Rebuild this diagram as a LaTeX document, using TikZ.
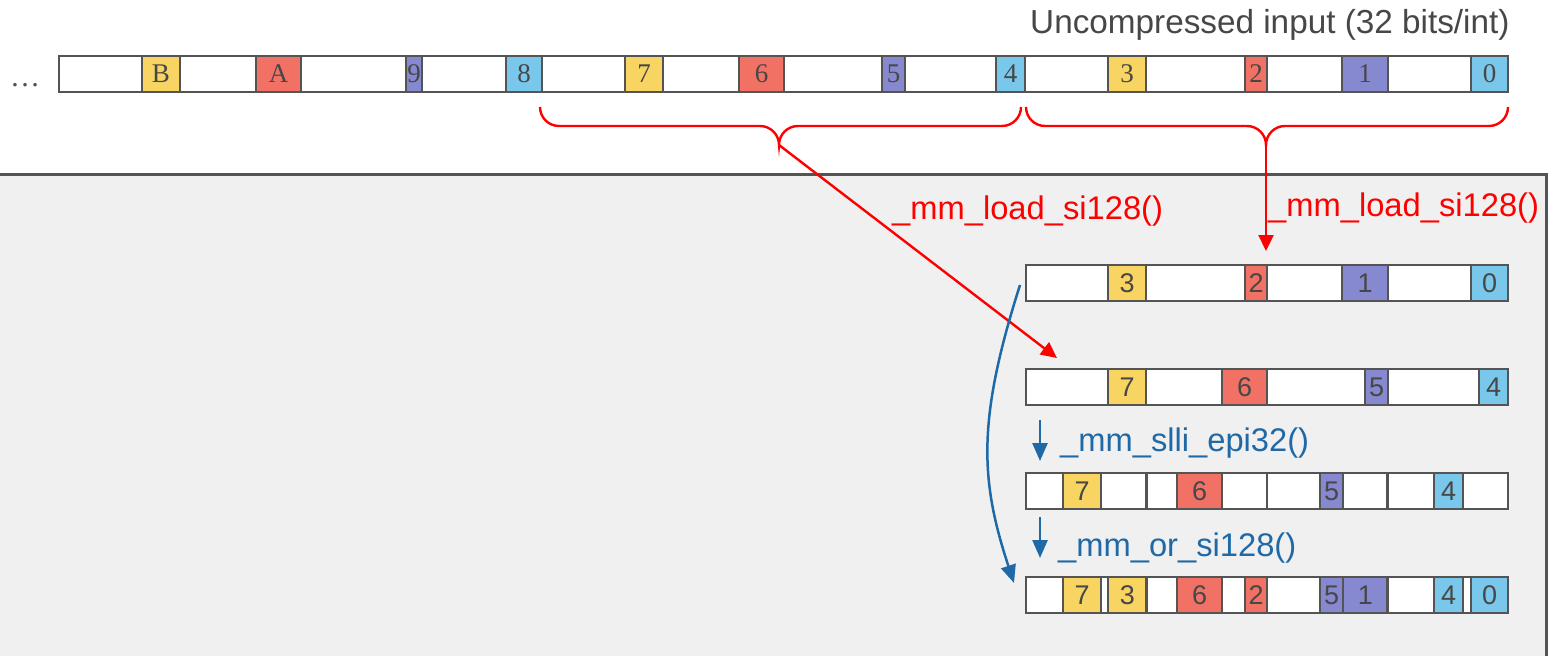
\documentclass[tikz,border=0pt]{standalone}
\usepackage{fontspec}
\setmainfont{Liberation Serif}
\setsansfont{Liberation Sans}
\usetikzlibrary{arrows.meta}

\definecolor{cyel}{HTML}{F8D462}
\definecolor{cred}{HTML}{F27165}
\definecolor{cpur}{HTML}{8689CF}
\definecolor{cblu}{HTML}{79C7EA}
\definecolor{edge}{HTML}{545454}
\definecolor{ink}{HTML}{474747}
\definecolor{panelgray}{HTML}{F0F0F0}
\definecolor{opblue}{HTML}{1F69A6}
\definecolor{loadred}{HTML}{FF0000}

% one coloured run of bits inside a register row
% #1 name, #2 left x, #3 right x, #4 top y, #5 bottom y, #6 fill, #7 text
\newcommand\bitcell[7]{%
  \node[box, cellfont, fill=#6, minimum width={#3-#2}, minimum height={#5-#4}]
    (#1) at ({(#2+#3)/2},{(#4+#5)/2}) {#7};}

% curly brace under a 128-bit group, tip pointing down
% #1 left x, #2 right x, #3 tip x, #4 tip name
\newcommand\groupbrace[4]{%
  \coordinate (#4) at (#3,145);
  \draw[loadline]
    (#1,107) .. controls (#1,117.5) and ({#1+8.5},126) .. ({#1+19},126)
    -- ({#3-19},126) .. controls ({#3-8.5},126) and (#3,134.5) .. (#4)
    .. controls (#3,134.5) and ({#3+8.5},126) .. ({#3+19},126)
    -- ({#2-19},126) .. controls ({#2-8.5},126) and (#2,117.5) .. (#2,107);}

\begin{document}
\begin{tikzpicture}[x=1pt,y=-1pt,
  box/.style={draw=edge, line width=2.8pt, fill=white, inner sep=0pt, outer sep=0pt},
  serifcell/.style={font=\fontsize{27}{27}\selectfont, text=ink},
  sanscell/.style={font=\sffamily\fontsize{27}{27}\selectfont, text=ink},
  cellfont/.style={sanscell},
  loadline/.style={draw=loadred, line width=2.4pt},
  loadarrow/.style={loadline, -{Triangle[length=16pt,width=15pt]}},
  oparrow/.style={draw=opblue, line width=2.5pt, -{Triangle[length=18pt,width=15pt]}},
  oplabel/.style={anchor=base west, font=\sffamily\fontsize{32.7}{33}\selectfont, text=opblue, inner sep=0pt},
  loadlabel/.style={anchor=base west, font=\sffamily\fontsize{32.7}{33}\selectfont, text=loadred, inner sep=0pt},
]
\useasboundingbox (0,0) rectangle (1553,656);
\clip (0,0) rectangle (1553,656);
\fill[white] (0,0) rectangle (1553,656);

% register panel
\draw[draw=edge, fill=panelgray, line width=3pt] (-20,174) rectangle (1546,700);

% title
\node[anchor=base west, font=\sffamily\fontsize{33.3}{33}\selectfont, text=ink, inner sep=0pt]
  (title) at (1030,33) {Uncompressed input (32 bits/int)};

% uncompressed input stream
\node[font=\fontsize{30}{30}\selectfont, text=edge, anchor=base, inner sep=0pt]
  (more) at (25,86) {…};
\node[box, minimum width=1449pt, minimum height=36pt] (input) at (783.5,74) {};
\begin{scope}[cellfont/.style={serifcell}]
  \bitcell{inB}{142}{180}{56}{92}{cyel}{B}
  \bitcell{inA}{256}{301}{56}{92}{cred}{A}
  \bitcell{in9}{406}{422}{56}{92}{cpur}{9}
  \bitcell{in8}{506}{542}{56}{92}{cblu}{8}
  \bitcell{in7}{625}{663}{56}{92}{cyel}{7}
  \bitcell{in6}{739}{784}{56}{92}{cred}{6}
  \bitcell{in5}{882}{905}{56}{92}{cpur}{5}
  \bitcell{in4}{996}{1025}{56}{92}{cblu}{4}
  \bitcell{in3}{1108}{1146}{56}{92}{cyel}{3}
  \bitcell{in2}{1245}{1267}{56}{92}{cred}{2}
  \bitcell{in1}{1342}{1388}{56}{92}{cpur}{1}
  \bitcell{in0}{1471}{1508}{56}{92}{cblu}{0}
\end{scope}

% braces over the two loaded 128-bit groups
\groupbrace{540}{1021}{779}{hiTip}
\groupbrace{1026}{1508}{1266}{loTip}

% register holding ints 0..3
\node[box, minimum width=482pt, minimum height=36pt] (regA) at (1267,283) {};
\bitcell{a3}{1108}{1146}{265}{301}{cyel}{3}
\bitcell{a2}{1245}{1267}{265}{301}{cred}{2}
\bitcell{a1}{1342}{1388}{265}{301}{cpur}{1}
\bitcell{a0}{1471}{1508}{265}{301}{cblu}{0}

% register holding ints 4..7
\node[box, minimum width=482pt, minimum height=36pt] (regB) at (1267,387) {};
\bitcell{b7}{1108}{1146}{369}{405}{cyel}{7}
\bitcell{b6}{1222}{1267}{369}{405}{cred}{6}
\bitcell{b5}{1365}{1388}{369}{405}{cpur}{5}
\bitcell{b4}{1479}{1508}{369}{405}{cblu}{4}

% shifted register
\bitcell{s3}{1026}{1146.5}{473}{509}{white}{}
\bitcell{s2}{1146.5}{1267}{473}{509}{white}{}
\bitcell{s1}{1267}{1387.5}{473}{509}{white}{}
\bitcell{s0}{1387.5}{1508}{473}{509}{white}{}
\bitcell{c7}{1063}{1101}{473}{509}{cyel}{7}
\bitcell{c6}{1177}{1222}{473}{509}{cred}{6}
\bitcell{c5}{1320}{1343}{473}{509}{cpur}{5}
\bitcell{c4}{1434}{1463}{473}{509}{cblu}{4}

% combined register
\bitcell{o3}{1026}{1146.5}{577}{613}{white}{}
\bitcell{o2}{1146.5}{1267}{577}{613}{white}{}
\bitcell{o1}{1267}{1387.5}{577}{613}{white}{}
\bitcell{o0}{1387.5}{1508}{577}{613}{white}{}
\bitcell{d7}{1063}{1101}{577}{613}{cyel}{7}
\bitcell{d3}{1108}{1146.5}{577}{613}{cyel}{3}
\bitcell{d6}{1177}{1222}{577}{613}{cred}{6}
\bitcell{d2}{1245}{1267}{577}{613}{cred}{2}
\bitcell{d5}{1320}{1343}{577}{613}{cpur}{5}
\bitcell{d1}{1343}{1387.5}{577}{613}{cpur}{1}
\bitcell{d4}{1434}{1463}{577}{613}{cblu}{4}
\bitcell{d0}{1471}{1508}{577}{613}{cblu}{0}

% loads
\coordinate (hiDst) at (1057,358);
\coordinate (loDst) at (1266,251);
\draw[loadarrow] (hiTip) -- (hiDst);
\draw[loadarrow] (loTip) -- (loDst);
\node[loadlabel] (hiLoad) at (892,219) {\_mm\_load\_si128()};
\node[loadlabel] (loLoad) at (1268,216) {\_mm\_load\_si128()};

% low ints carried down to the OR
\coordinate (carryFrom) at (1020,285);
\coordinate (carryTo) at (1014,583);
\draw[oparrow] (carryFrom) .. controls (977,420) and (980,480) .. (carryTo);

% shift and or steps
\coordinate (sllFrom) at (1040,420);
\coordinate (sllTo) at (1040,461);
\coordinate (orFrom) at (1040,517);
\coordinate (orTo) at (1040,558);
\draw[oparrow] (sllFrom) -- (sllTo);
\draw[oparrow] (orFrom) -- (orTo);
\node[oplabel] (sllLabel) at (1060,451) {\_mm\_slli\_epi32()};
\node[oplabel] (orLabel) at (1058,556) {\_mm\_or\_si128()};
\end{tikzpicture}
\end{document}
